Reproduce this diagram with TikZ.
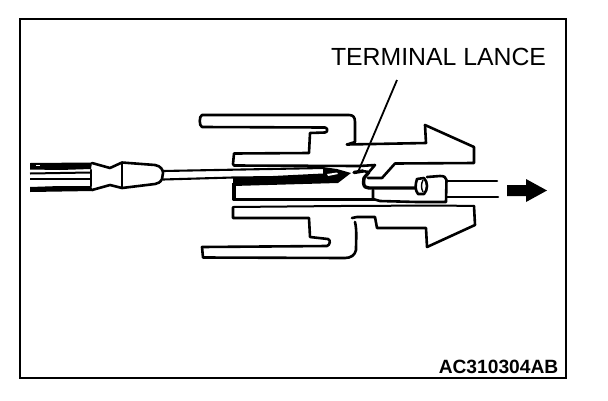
\documentclass[tikz,border=0pt]{standalone}
\usepackage{fontspec}
\setmainfont{Liberation Sans}
\tikzset{
  ln/.style={draw=black,line width=2.6pt,line join=round,line cap=round},
  shaftln/.style={draw=black,line width=2.1pt,line cap=round},
  thinln/.style={draw=black,line width=2pt,line cap=round},
  lab/.style={inner sep=0pt,text=black}
}
\begin{document}
\begin{tikzpicture}[x=1pt,y=-1pt]
\useasboundingbox (0,0) rectangle (608,400);
\fill[white] (0,0) rectangle (608,400);
% frame
\draw[line width=2pt] (20,18.5) rectangle (566,377.5);
% labels
\node[lab,font=\fontsize{24.8}{27}\selectfont,anchor=base] (lance) at (438.5,65) {TERMINAL LANCE};
\node[lab,font=\fontsize{19.2}{22}\bfseries\selectfont,anchor=base east] (code) at (558.5,373) {AC310304AB};
% upper clip
\draw[ln] (347,144.5) -- (355,142) -- (355,122) .. controls (355,117) and (353,115) .. (349,115)
  -- (202,115) .. controls (199,116) and (199,126) .. (202,127) -- (325,127.5)
  .. controls (328,128) and (328,132) .. (325,132.5) -- (310,133) -- (309,153) -- (234,153.5)
  -- (233,164) -- (234,165.5) -- (360,166);
\draw[ln] (347,144.5) -- (426,143) -- (425,125) -- (474,147) -- (474,163) -- (395,163.5)
  -- (382,178) -- (368,178);
% lower clip
\draw[ln] (352,218) -- (357,217) -- (375,217) -- (377,228) -- (426,228) -- (427,247)
  -- (475,225) -- (474,206);
\draw[ln] (355,222) .. controls (357,230) and (356,240) .. (356,250)
  .. controls (355,255) and (351,258) .. (345,258) -- (203,257.5) -- (202,247) -- (327,246)
  .. controls (330,245) and (331,240) .. (328,239) -- (310,237) -- (309,218) -- (233,218)
  -- (233,207.5);
\draw[thinln] (233,207) -- (340,206) -- (440,205.5) -- (474,206);
% terminal housing
\draw[line width=3.4pt,line join=round] (234,183) -- (234,199.5) -- (375,199.5);
\draw[ln] (373,190) -- (373,199) -- (380,201) -- (417,202) -- (446,202) -- (446.5,180)
  .. controls (446,177) and (444,176) .. (440,176) -- (427,177);
\draw[line width=3.4pt,line join=round] (369,172) -- (364,178) -- (363.5,183)
  .. controls (364,187) and (366,188) .. (369,188) -- (418,188);
\draw[ln,fill=white] (417,179) .. controls (415,185) and (415,190) .. (418,194) -- (424,194)
  .. controls (428,190) and (428,182) .. (424,178) -- cycle;
\draw[line width=1.4pt] (423,180) .. controls (421,184) and (421,188) .. (423,192);
% wires
\draw[ln] (447,181) -- (497,181);
\draw[ln] (447,197) -- (498,197);
% screwdriver handle
\fill (30,163) -- (92,162.5) -- (91,169) -- (60,170) -- (30,169.5) -- cycle;
\fill[white] (36,165) rectangle (40,166);
\draw[line width=2pt] (30,173.5) -- (90,172.5);
\draw[line width=2pt] (30,179) -- (90,179);
\fill (30,187) -- (60,186) -- (91,186) -- (93,191) -- (30,192) -- cycle;
\draw[ln] (92,163) -- (110,168) -- (122,162.5) -- (155,165) .. controls (161,166) and (163,170) .. (163,173)
  -- (162,179) .. controls (160,183) and (158,183) .. (155,184) -- (122,188) -- (110,185) -- (92,190);
\draw[ln] (91,170) -- (91,186);
\draw[ln] (122,163) -- (122,187);
% shaft and blade
\draw[shaftln] (163,171) -- (323,168);
\draw[shaftln] (163,179.5) -- (233,177.5);
\fill (233,176.5) -- (273,176) -- (323,173.5) -- (323,167) -- (337,169) -- (351,173)
  -- (338,183) -- (233,186) -- cycle;
\fill[white] (327,174) -- (337,172.5) -- (338,174) -- (328,176) -- cycle;
% terminal lance
\draw[line width=3.4pt,line cap=round] (354,172.5) -- (363,171);
\draw[ln] (360,166) -- (375,165) -- (369,172) -- (362,171);
% leader
\coordinate (leadtop) at (397,80);
\coordinate (leadend) at (358,172);
\draw[line width=1.8pt] (leadtop) -- (leadend);
% arrow
\fill (507,185) -- (526,185) -- (526,179) -- (547,190.5) -- (526,202) -- (526,196) -- (507,196) -- cycle;
\end{tikzpicture}
\end{document}
